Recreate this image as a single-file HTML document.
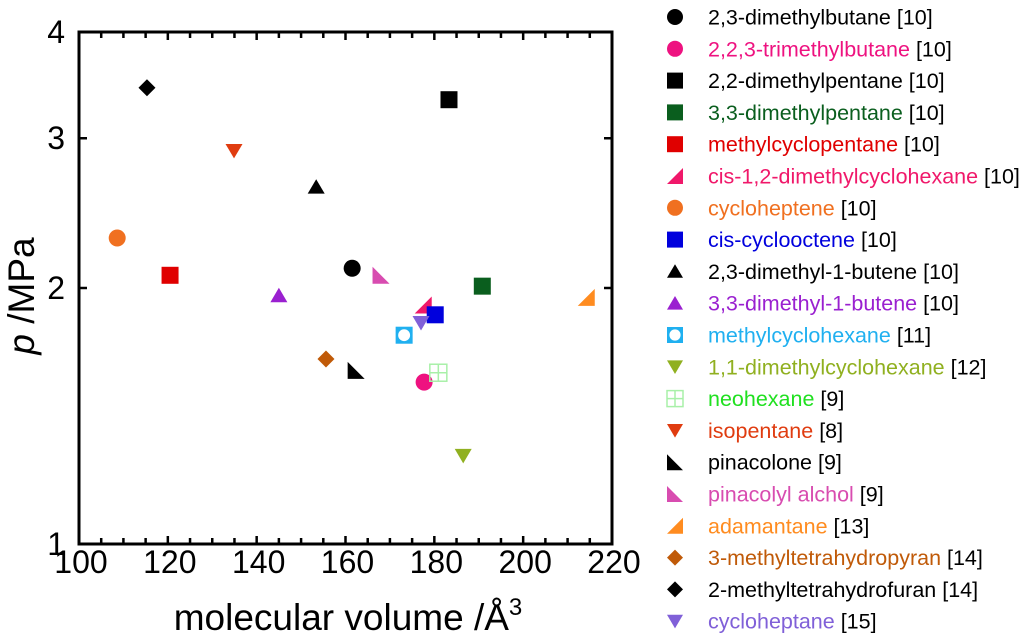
<!DOCTYPE html>
<html><head><meta charset="utf-8"><style>
body{margin:0;background:#fff;width:1024px;height:636px;overflow:hidden}
svg text{font-family:"Liberation Sans",Arial,sans-serif}
</style></head><body>
<svg id="chart" width="1024" height="636" xmlns="http://www.w3.org/2000/svg"></svg>
<script>
const names=["2,3-dimethylbutane","2,2,3-trimethylbutane","2,2-dimethylpentane","3,3-dimethylpentane","methylcyclopentane","cis-1,2-dimethylcyclohexane","cycloheptene","cis-cyclooctene","2,3-dimethyl-1-butene","3,3-dimethyl-1-butene","methylcyclohexane","1,1-dimethylcyclohexane","neohexane","isopentane","pinacolone","pinacolyl alchol","adamantane","3-methyltetrahydropyran","2-methyltetrahydrofuran","cycloheptane"];
const refs=["[10]","[10]","[10]","[10]","[10]","[10]","[10]","[10]","[10]","[10]","[11]","[12]","[9]","[8]","[9]","[9]","[13]","[14]","[14]","[15]"];
const volumes=[161.5,177.7,183.3,190.8,120.5,177.5,108.6,180.2,153.4,145,173.2,186.5,180.9,134.9,162.4,168,214.2,155.6,115.3,177];
const pressures=[2.11,1.55,3.33,2.01,2.07,1.91,2.29,1.86,2.63,1.96,1.76,1.27,1.59,2.90,1.60,2.07,1.95,1.65,3.44,1.82];
const shapes=["circle","circle","square","square","square","rtR","circle","square","tri","tri","hollow","down","grid","down","rtL","rtL","rtR","diamond","diamond","down"];
const colors=["#000","#ee1280","#000","#0a5e1e","#e00000","#f0186a","#f07020","#0000dd","#000","#9a20d0","#20b0f0","#90b020","#a8f0a8","#e03c10","#000","#d84cb0","#ff8c20","#c05a08","#000","#8060d8"];
const textColors=["#000","#ee1280","#000","#0a5e1e","#e00000","#f0186a","#f07020","#0000dd","#000","#9a20d0","#20b0f0","#90b020","#20e020","#e03c10","#000","#d84cb0","#ff8c20","#c05a08","#000","#8060d8"];
const xTicks=[100,120,140,160,180,200,220];
const yTicks=[1,2,3,4];

const NS="http://www.w3.org/2000/svg";
const svg=document.getElementById('chart');
const L=79,R=612,T=32,B=544,xmin=100,xmax=220,ymin=1,ymax=4;
const xs=v=>L+(v-xmin)/(xmax-xmin)*(R-L);
const ys=v=>B-Math.log(v/ymin)/Math.log(ymax/ymin)*(B-T);
function mk(tag,attrs,parent){const e=document.createElementNS(NS,tag);for(const k in attrs)e.setAttribute(k,attrs[k]);(parent||svg).appendChild(e);return e;}

function marker(shape,cx,cy,c,s,parent){
  const h=s/2;let e;
  if(shape==="circle")e=mk('circle',{cx,cy,r:h,fill:c},parent);
  else if(shape==="square")e=mk('rect',{x:cx-h,y:cy-h,width:s,height:s,fill:c},parent);
  else if(shape==="tri")e=mk('polygon',{points:`${cx-h},${cy+h*0.8} ${cx+h},${cy+h*0.8} ${cx},${cy-h*0.9}`,fill:c},parent);
  else if(shape==="down")e=mk('polygon',{points:`${cx-h},${cy-h*0.8} ${cx+h},${cy-h*0.8} ${cx},${cy+h*0.9}`,fill:c},parent);
  else if(shape==="rtR")e=mk('polygon',{points:`${cx-h},${cy+h} ${cx+h},${cy+h} ${cx+h},${cy-h}`,fill:c},parent);
  else if(shape==="rtL")e=mk('polygon',{points:`${cx-h},${cy-h} ${cx-h},${cy+h} ${cx+h},${cy+h}`,fill:c},parent);
  else if(shape==="diamond")e=mk('polygon',{points:`${cx},${cy-h} ${cx+h},${cy} ${cx},${cy+h} ${cx-h},${cy}`,fill:c},parent);
  else if(shape==="hollow"){e=mk('g',{},parent);mk('rect',{x:cx-h,y:cy-h,width:s,height:s,fill:c},e);mk('circle',{cx,cy,r:h*0.7,fill:'#fff'},e);}
  else if(shape==="grid"){e=mk('g',{},parent);const st={fill:'none',stroke:c,'stroke-width':1.5};mk('rect',Object.assign({x:cx-h,y:cy-h,width:s,height:s},st),e);mk('line',Object.assign({x1:cx,y1:cy-h,x2:cx,y2:cy+h},st),e);mk('line',Object.assign({x1:cx-h,y1:cy,x2:cx+h,y2:cy},st),e);}
  return e;
}

const tg=mk('g',{});


for(let v=105;v<220;v+=5){const len=(v%20===0)?8:6;
  mk('line',{x1:xs(v),y1:B,x2:xs(v),y2:B-len,stroke:'#000','stroke-width':2.5},tg);
  mk('line',{x1:xs(v),y1:T,x2:xs(v),y2:T+len,stroke:'#000','stroke-width':2.5},tg);}
[2,3].forEach(v=>{mk('line',{x1:L,y1:ys(v),x2:L+8,y2:ys(v),stroke:'#000','stroke-width':2.5},tg);
  mk('line',{x1:R,y1:ys(v),x2:R-8,y2:ys(v),stroke:'#000','stroke-width':2.5},tg);});
const frame=mk('rect',{x:L,y:T,width:R-L,height:B-T,fill:'none',stroke:'#000','stroke-width':3});



xTicks.forEach(v=>{const t=mk('text',{x:xs(v)+2,y:573,'font-size':32,'text-anchor':'middle'});t.textContent=v;
  
  });
yTicks.forEach(v=>{const t=mk('text',{x:65,y:ys(v)+11,'font-size':32,'text-anchor':'end'});t.textContent=v;
  
  });

const xt=mk('text',{x:348,y:630,'font-size':37,'text-anchor':'middle'});
xt.innerHTML='molecular volume /Å<tspan font-size="24" dy="-15">3</tspan>';


const yt=mk('text',{x:0,y:0,'font-size':37,'text-anchor':'middle',transform:'translate(34,296) rotate(-90)'});
yt.innerHTML='<tspan font-style="italic">p</tspan> /MPa';



volumes.forEach((v,i)=>{const m=marker(shapes[i],xs(v),ys(pressures[i]),colors[i],17);
  
  });

names.forEach((n,i)=>{const y=17+i*31.8;
  const g=mk('g',{});
  
  
  marker(shapes[i],675,y,colors[i],16,g);
  const t=mk('text',{x:708,y:y+7.5,'font-size':21.5,fill:textColors[i]},g);
  t.innerHTML=n+' <tspan fill="#000">'+refs[i]+'</tspan>';});
</script>
</body></html>
